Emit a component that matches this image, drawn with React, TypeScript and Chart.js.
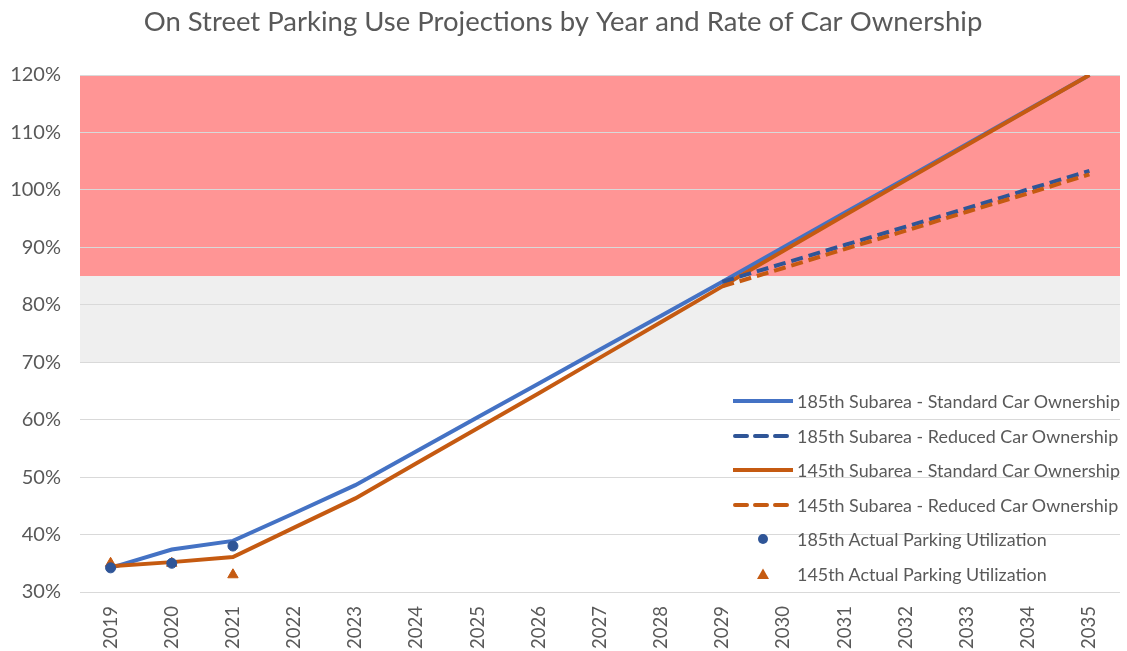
import React, { useEffect, useRef } from "react";
import { Chart, registerables } from "chart.js";

Chart.register(...registerables);

const years = ["2019", "2020", "2021", "2022", "2023", "2024", "2025", "2026", "2027", "2028", "2029", "2030", "2031", "2032", "2033", "2034", "2035"];

const std185 = [34.2, 37.4, 38.9, 43.7, 48.6, 54.5, 60.4, 66.3, 72.2, 78.1, 84.0, 90.0, 96.0, 102.0, 108.0, 114.0, 120.0];
const red185 = [null, null, null, null, null, null, null, null, null, null, 84.0, 87.2, 90.4, 93.6, 96.8, 100.1, 103.3];
const std145 = [34.5, 35.2, 36.1, 41.2, 46.3, 52.4, 58.5, 64.6, 70.8, 77.0, 83.2, 89.4, 95.6, 101.7, 107.8, 113.9, 120.0];
const red145 = [null, null, null, null, null, null, null, null, null, null, 83.2, 86.4, 89.7, 92.9, 96.2, 99.4, 102.7];
const actual185 = [34.2, 35.0, 38.0, null, null, null, null, null, null, null, null, null, null, null, null, null, null];
const actual145 = [35.0, 35.0, 33.0, null, null, null, null, null, null, null, null, null, null, null, null, null, null];

const seriesNames = [
  "185th Subarea - Standard Car Ownership",
  "185th Subarea - Reduced Car Ownership",
  "145th Subarea - Standard Car Ownership",
  "145th Subarea - Reduced Car Ownership",
  "185th Actual Parking Utilization",
  "145th Actual Parking Utilization",
];

const yTicks = [30, 40, 50, 60, 70, 80, 90, 100, 110, 120];
const redBand = [85, 120];
const grayBand = [70, 85];

const BLUE = "#4472C4";
const DARK_BLUE = "#2F5597";
const ORANGE = "#C55A11";
const TEXT = "#595959";
const FONT = "Lato, 'Liberation Sans', sans-serif";

const bandsPlugin = {
  id: "bands",
  beforeDraw(chart: any) {
    const { ctx, chartArea, scales } = chart;
    const y = scales.y;
    ctx.save();
    const r0 = y.getPixelForValue(redBand[1]);
    const r1 = y.getPixelForValue(redBand[0]);
    ctx.fillStyle = "#FF9595";
    ctx.fillRect(chartArea.left, r0, chartArea.right - chartArea.left, r1 - r0);
    const g0 = y.getPixelForValue(grayBand[1]);
    const g1 = y.getPixelForValue(grayBand[0]);
    ctx.fillStyle = "#EFEFEF";
    ctx.fillRect(chartArea.left, g0, chartArea.right - chartArea.left, g1 - g0);
    ctx.restore();
  },
};

function LegendRow({ kind, color, label, top }: { kind: string; color: string; label: string; top: number }) {
  let sample: any = null;
  if (kind === "solid") {
    sample = <svg width={60} height={10}><line x1={0} y1={5} x2={60} y2={5} stroke={color} strokeWidth={4} /></svg>;
  } else if (kind === "dash") {
    sample = <svg width={60} height={10}><line x1={2} y1={5} x2={56} y2={5} stroke={color} strokeWidth={4} strokeDasharray="12 8" strokeLinecap="round" /></svg>;
  } else if (kind === "circle") {
    sample = <svg width={60} height={12}><circle cx={30} cy={6} r={5} fill={color} /></svg>;
  } else {
    sample = <svg width={60} height={12}><polygon points="30,0.5 36,11 24,11" fill={color} /></svg>;
  }
  return (
    <div style={{ position: "absolute", left: 0, top, height: 34, display: "flex", alignItems: "center", whiteSpace: "nowrap" }}>
      <div style={{ width: 64, display: "flex", alignItems: "center" }}>{sample}</div>
      <span style={{ fontFamily: FONT, fontSize: 17.9, color: TEXT }}>{label}</span>
    </div>
  );
}

export default function App() {
  const ref = useRef<HTMLCanvasElement | null>(null);

  useEffect(() => {
    if (!ref.current) return;
    const chart = new Chart(ref.current, {
      type: "line",
      data: {
        labels: years,
        datasets: [
          { label: seriesNames[4], data: actual185, showLine: false, pointStyle: "circle", pointRadius: 5, pointBackgroundColor: DARK_BLUE, pointBorderColor: DARK_BLUE, borderColor: DARK_BLUE, order: 0 },
          { label: seriesNames[5], data: actual145, showLine: false, pointStyle: "triangle", pointRadius: 6, pointBackgroundColor: ORANGE, pointBorderColor: ORANGE, borderColor: ORANGE, order: 0 },
          { label: seriesNames[3], data: red145, borderColor: ORANGE, borderWidth: 4, borderDash: [12, 6], pointRadius: 0, spanGaps: false, order: 1 },
          { label: seriesNames[1], data: red185, borderColor: DARK_BLUE, borderWidth: 4, borderDash: [12, 6], pointRadius: 0, spanGaps: false, order: 2 },
          { label: seriesNames[2], data: std145, borderColor: ORANGE, borderWidth: 4, pointRadius: 0, order: 3 },
          { label: seriesNames[0], data: std185, borderColor: BLUE, borderWidth: 4, pointRadius: 0, order: 4 },
        ] as any,
      },
      options: {
        animation: false,
        responsive: false,
        maintainAspectRatio: false,
        layout: { padding: { top: 0, right: 1, left: 0, bottom: 0 } },
        plugins: {
          legend: { display: false },
          tooltip: { enabled: false },
          title: {
            display: true,
            text: "On Street Parking Use Projections by Year and Rate of Car Ownership",
            color: TEXT,
            font: { family: FONT, size: 27.5, weight: "normal", lineHeight: 1.2 },
            padding: { top: 6, bottom: 36 },
          },
        },
        scales: {
          x: {
            type: "category",
            offset: true,
            grid: { display: false, drawTicks: false },
            border: { display: false },
            ticks: { color: TEXT, font: { family: FONT, size: 18.5 }, minRotation: 90, maxRotation: 90, padding: 14, autoSkip: false },
            afterFit(scale: any) { scale.height = 59; },
          },
          y: {
            min: yTicks[0],
            max: yTicks[yTicks.length - 1],
            afterBuildTicks(scale: any) { scale.ticks = yTicks.map((v) => ({ value: v })); },
            grid: { color: "#D9D9D9", lineWidth: 1, drawTicks: false },
            border: { display: false },
            ticks: { color: TEXT, font: { family: FONT, size: 20 }, padding: 19, callback: (v: any) => v + "%" },
            afterFit(scale: any) { scale.width = 80; },
          },
        },
      } as any,
      plugins: [bandsPlugin],
    });
    return () => chart.destroy();
  }, []);

  const rowTops = [384, 418.5, 453, 487.5, 522, 556.5];
  const kinds = ["solid", "dash", "solid", "dash", "circle", "triangle"];
  const colors = [BLUE, DARK_BLUE, ORANGE, ORANGE, DARK_BLUE, ORANGE];

  return (
    <div style={{ position: "absolute", left: 0, top: 0, width: 1127, height: 651, background: "#fff" }}>
      <canvas ref={ref} width={1127} height={651} style={{ display: "block" }} />
      <div style={{ position: "absolute", left: 733, top: 0 }}>
        {seriesNames.map((n, i) => (
          <LegendRow key={n} kind={kinds[i]} color={colors[i]} label={n} top={rowTops[i]} />
        ))}
      </div>
    </div>
  );
}
